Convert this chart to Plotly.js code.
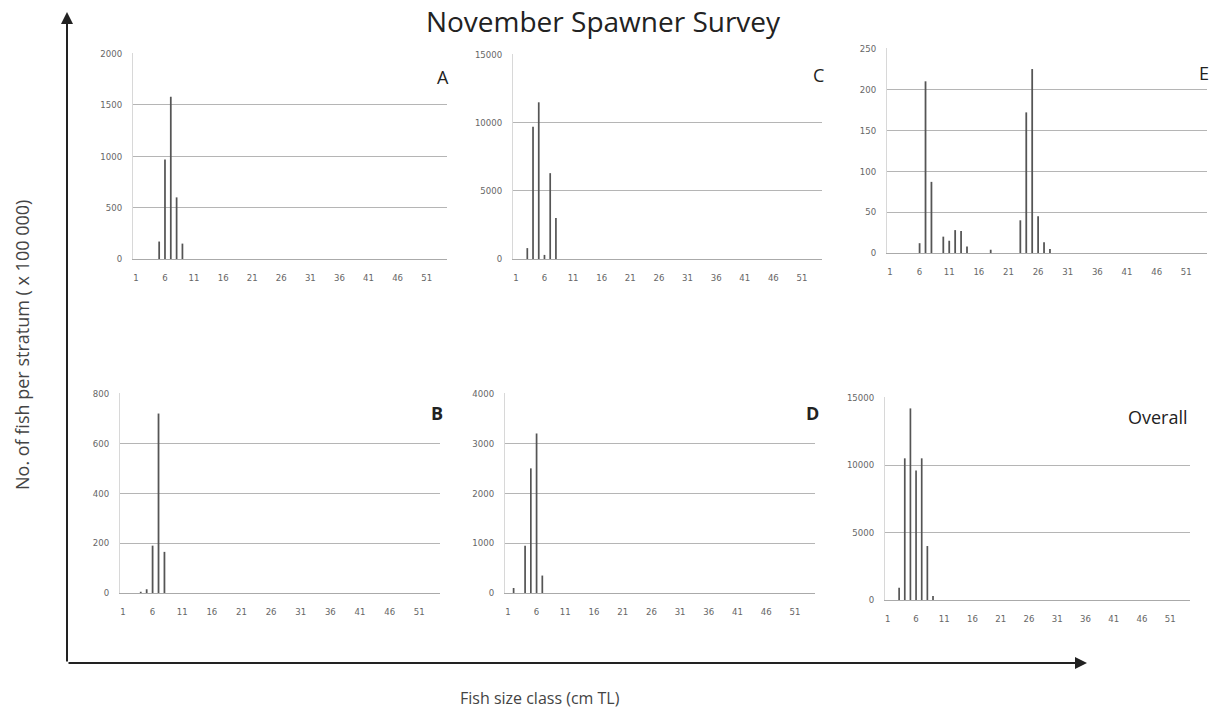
<!DOCTYPE html>
<html>
<head>
<meta charset="utf-8">
<script src="https://cdn.plot.ly/plotly-3.0.1.min.js"></script>
<style>html,body{margin:0;padding:0;background:#fff;}#chart{width:1216px;height:713px;}</style>
</head>
<body>
<div id="chart"></div>
<script>
// ---- data (size class in cm TL, fish per stratum x 100 000) ----
const xTickVals = [1, 6, 11, 16, 21, 26, 31, 36, 41, 46, 51];
const xTickText = ["1", "6", "11", "16", "21", "26", "31", "36", "41", "46", "51"];

const aClass = [5, 6, 7, 8, 9];
const aCount = [170, 970, 1580, 600, 150];

const bClass = [4, 5, 6, 7, 8];
const bCount = [5, 15, 190, 720, 165];

const cClass = [3, 4, 5, 6, 7, 8];
const cCount = [800, 9700, 11500, 300, 6300, 3000];

const dClass = [2, 4, 5, 6, 7];
const dCount = [100, 950, 2500, 3200, 350];

const eClass = [6, 7, 8, 10, 11, 12, 13, 14, 18, 23, 24, 25, 26, 27, 28];
const eCount = [12, 210, 87, 20, 15, 28, 27, 8, 4, 40, 172, 225, 45, 13, 5];

const oClass = [3, 4, 5, 6, 7, 8, 9];
const oCount = [900, 10500, 14200, 9600, 10500, 4000, 300];

const panelNames = ["A", "B", "C", "D", "E", "Overall"];
const yTicksA = [0, 500, 1000, 1500, 2000];
const yTicksB = [0, 200, 400, 600, 800];
const yTicksC = [0, 5000, 10000, 15000];
const yTicksD = [0, 1000, 2000, 3000, 4000];
const yTicksE = [0, 50, 100, 150, 200, 250];
const yTicksO = [0, 5000, 10000, 15000];

// ---- layout helpers ----
const W = 1216, H = 713;
const px = (a, b) => [a / W, b / W];
const py = (top, bottom) => [1 - bottom / H, 1 - top / H];

const panels = [
  {cls: aClass, val: aCount, ticks: yTicksA, dx: px(133, 447), dy: py(53, 259)},
  {cls: bClass, val: bCount, ticks: yTicksB, dx: px(120, 440), dy: py(393, 593)},
  {cls: cClass, val: cCount, ticks: yTicksC, dx: px(513, 822), dy: py(54, 259)},
  {cls: dClass, val: dCount, ticks: yTicksD, dx: px(505, 815), dy: py(393, 593)},
  {cls: eClass, val: eCount, ticks: yTicksE, dx: px(887, 1207), dy: py(48, 253)},
  {cls: oClass, val: oCount, ticks: yTicksO, dx: px(885, 1190), dy: py(397, 600)}
];

const tickFont = {family: "DejaVu Sans Condensed, DejaVu Sans, sans-serif", size: 9.5, color: "#666"};
const data = [];
const layout = {
  width: W, height: H,
  margin: {l: 0, r: 0, t: 0, b: 0},
  paper_bgcolor: "#fff", plot_bgcolor: "rgba(0,0,0,0)",
  showlegend: false,
  bargap: 0.65,
  title: {
    text: "November Spawner Survey",
    font: {family: "Open Sans, sans-serif", size: 28, color: "#222"},
    x: 603 / W, xanchor: "center", xref: "container",
    y: 1 - 22 / H, yanchor: "middle", yref: "container"
  },
  annotations: [],
  shapes: []
};

panels.forEach((p, i) => {
  const n = i + 1;
  const xa = n === 1 ? "x" : "x" + n;
  const ya = n === 1 ? "y" : "y" + n;
  data.push({
    type: "bar", x: p.cls, y: p.val, xaxis: xa, yaxis: ya,
    width: 0.3,
    marker: {color: "#555", line: {width: 0}},
    hoverinfo: "x+y"
  });
  const ymax = p.ticks[p.ticks.length - 1];
  layout["xaxis" + (n === 1 ? "" : n)] = {
    domain: p.dx, anchor: ya, range: [0.5, 54.5],
    tickvals: xTickVals, ticktext: xTickText, tickfont: tickFont,
    showgrid: false, zeroline: false, showline: true, linecolor: "#aaa", linewidth: 1,
    ticks: "", ticklen: 0, ticklabelstandoff: 10, fixedrange: true
  };
  layout["yaxis" + (n === 1 ? "" : n)] = {
    domain: p.dy, anchor: xa, range: [0, ymax * 1.003],
    tickvals: p.ticks, ticktext: p.ticks.map(String), tickfont: tickFont,
    showgrid: true, gridcolor: "#b5b5b5", gridwidth: 1,
    zeroline: false, showline: true, linecolor: "#d8d8d8", linewidth: 1,
    ticks: "", ticklen: 0, ticklabelstandoff: 8, fixedrange: true
  };
});

// panel letters
const labelPos = [
  {x: 443, y: 77, s: 18, b: false},
  {x: 437, y: 413, s: 18, b: true},
  {x: 818, y: 75, s: 18, b: false},
  {x: 812, y: 413, s: 18, b: true},
  {x: 1204, y: 73, s: 18, b: false},
  {x: 1158, y: 417, s: 18, b: false}
];
labelPos.forEach((l, k) => {
  layout.annotations.push({
    text: l.b ? "<b>" + panelNames[k] + "</b>" : panelNames[k],
    xref: "paper", yref: "paper", x: l.x / W, y: 1 - l.y / H,
    xanchor: "center", yanchor: "middle", showarrow: false,
    font: {family: "Open Sans, sans-serif", size: l.s, color: "#222"}
  });
});

// global axis titles
layout.annotations.push({
  text: "No. of fish per stratum ( x 100 000)",
  xref: "paper", yref: "paper", x: 22 / W, y: 1 - 345 / H,
  textangle: -90, showarrow: false, xanchor: "center", yanchor: "middle",
  font: {family: "Open Sans, sans-serif", size: 18, color: "#444"}
});
layout.annotations.push({
  text: "Fish size class (cm TL)",
  xref: "paper", yref: "paper", x: 540 / W, y: 1 - 698 / H,
  showarrow: false, xanchor: "center", yanchor: "middle",
  font: {family: "Open Sans, sans-serif", size: 16, color: "#444"}
});

// global arrows
layout.annotations.push({
  text: "", xref: "paper", yref: "paper", x: 67 / W, y: 1 - 12 / H,
  showarrow: true, ax: 0, ay: 651, arrowhead: 2, arrowsize: 1.2, arrowwidth: 2, arrowcolor: "#222"
});
layout.annotations.push({
  text: "", xref: "paper", yref: "paper", x: 1087 / W, y: 1 - 663 / H,
  showarrow: true, ax: -1020, ay: 0, arrowhead: 2, arrowsize: 1.2, arrowwidth: 2, arrowcolor: "#222"
});

Plotly.newPlot("chart", data, layout, {displayModeBar: false, staticPlot: true});
</script>
</body>
</html>
